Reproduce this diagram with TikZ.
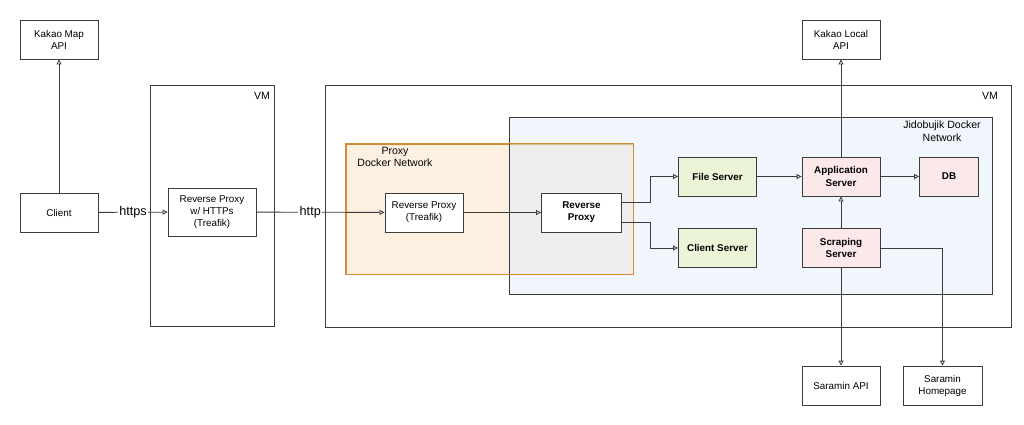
\documentclass[tikz,border=0pt]{standalone}
\usepackage{fontspec}
\setmainfont{Liberation Sans}
\usepackage{xcolor}
\usepackage{tikz}
\usetikzlibrary{arrows.meta, positioning, calc}
\definecolor{netorange}{RGB}{214, 140, 50}
\definecolor{netorangebg}{RGB}{253, 240, 224}
\definecolor{netbluebg}{RGB}{226, 237, 250}
\definecolor{svgreen}{RGB}{233, 245, 214}
\definecolor{svpink}{RGB}{251, 232, 233}
\definecolor{edgegray}{RGB}{60, 60, 60}

\begin{document}
\begin{tikzpicture}[
    x=0.025cm, y=-0.025cm,
    box/.style={rectangle, draw=edgegray, line width=0.6pt, fill=white, inner sep=0pt, minimum width=1.95cm, minimum height=0.975cm, align=center, font=\fontsize{7}{8.6}\selectfont},
    boldbox/.style={box, font=\fontsize{7}{8.6}\selectfont\bfseries},
    greenbox/.style={boldbox, fill=svgreen},
    pinkbox/.style={boldbox, fill=svpink},
    vmbox/.style={rectangle, draw=edgegray, line width=0.6pt, inner sep=0pt},
    netlabel/.style={align=center, font=\fontsize{7.5}{9}\selectfont},
    wirelabel/.style={fill=white, inner sep=1pt, font=\fontsize{9}{10}\selectfont},
    arrow/.style={-{Triangle[open, length=3.5pt, width=3.5pt]}, line width=0.6pt, draw=edgegray}
]
    \useasboundingbox (0,0) rectangle (1024,424);

    % VM boxes and docker networks
    \node[vmbox, minimum width=3.1cm, minimum height=6.025cm] (vmA) at (212, 205.5) {};
    \node[vmbox, minimum width=17.125cm, minimum height=6.05cm] (vmB) at (668.5, 206) {};
    \node[vmbox, draw=netorange, fill=netorangebg, minimum width=7.175cm, minimum height=3.25cm] (proxynet) at (489.5, 209) {};
    \node[vmbox, fill=netbluebg, fill opacity=0.5, minimum width=12.075cm, minimum height=4.425cm] (jidonet) at (750.5, 205.5) {};
    \draw[netorange, line width=0.6pt] (proxynet.north west) rectangle (proxynet.south east);

    \node[netlabel] (vmAlabel) at (262, 96) {VM};
    \node[netlabel] (vmBlabel) at (990, 96) {VM};
    \node[netlabel] (proxynetlabel) at (395, 157) {Proxy\\Docker Network};
    \node[netlabel] (jidonetlabel) at (942, 131) {Jidobujik Docker\\Network};

    % Outside services
    \node[box] (kakaomap) at (59, 39.5) {Kakao Map\\API};
    \node[box] (client) at (59, 212.5) {Client};
    \node[box] (kakaolocal) at (841, 39.5) {Kakao Local\\API};
    \node[box] (saraminapi) at (841, 385.5) {Saramin API};
    \node[box, minimum width=1.975cm] (homepage) at (942.5, 385.5) {Saramin\\Homepage};

    % Proxies
    \node[box, minimum width=2.2cm, minimum height=1.2cm] (httpsproxy) at (212, 212) {Reverse Proxy\\w/ HTTPs\\(Treafik)};
    \node[box] (treafik) at (424, 212.5) {Reverse Proxy\\(Treafik)};
    \node[boldbox, minimum width=2cm] (revproxy) at (581.5, 212.5) {Reverse\\Proxy};

    % Servers
    \node[greenbox] (fileserver) at (717.5, 176.5) {File Server};
    \node[greenbox] (clientserver) at (717.5, 248) {Client Server};
    \node[pinkbox] (appserver) at (841, 176.5) {Application\\Server};
    \node[pinkbox, minimum width=1.475cm] (db) at (949, 176.5) {DB};
    \node[pinkbox] (scraping) at (841, 248) {Scraping\\Server};

    % Arrows
    \draw[arrow] (client) -- (kakaomap);
    \draw[arrow] (client) -- node[wirelabel] (httpslabel) {https} (httpsproxy);
    \draw[arrow] (httpsproxy) -- node[wirelabel, pos=0.42] (httplabel) {http} (treafik);
    \draw[arrow] (treafik) -- (revproxy);

    \draw[arrow] ([yshift=7pt]revproxy.east) -- ++(28,0) |- (fileserver.west);
    \draw[arrow] ([yshift=-7pt]revproxy.east) -- ++(28,0) |- (clientserver.west);

    \draw[arrow] (fileserver) -- (appserver);
    \draw[arrow] (appserver) -- (db);
    \draw[arrow] (appserver) -- (kakaolocal);
    \draw[arrow] (scraping) -- (appserver);
    \draw[arrow] (scraping) -- (saraminapi);
    \draw[arrow] (scraping.east) -| (homepage.north);

\end{tikzpicture}
\end{document}
